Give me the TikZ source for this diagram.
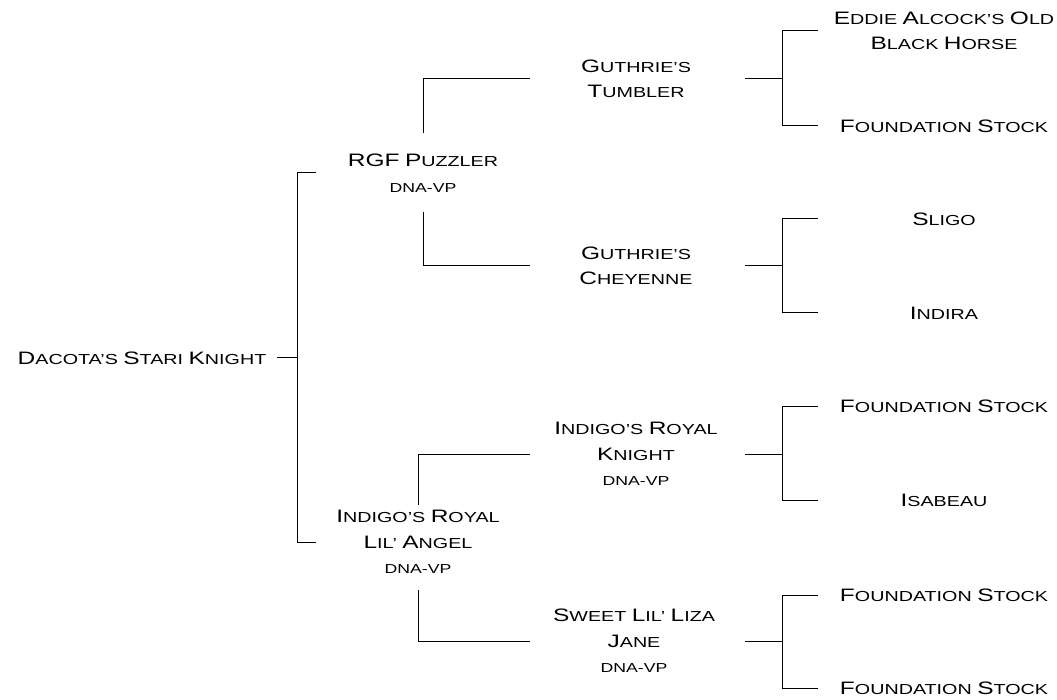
\documentclass[tikz,border=0pt]{standalone}
\usepackage{fontspec}
\setmainfont[FakeStretch=1.36]{Liberation Sans}
\newcommand\C[1]{{\fontsize{18}{20}\selectfont #1}}
\newcommand\dna{{\fontsize{13}{20}\selectfont DNA-VP}}
\begin{document}
\begin{tikzpicture}[x=1pt,y=-1pt,
  lbl/.style={align=center,inner sep=0pt,font=\fontsize{14.5}{25.5}\selectfont},
  conn/.style={draw,line width=1pt}]
\useasboundingbox (0,0) rectangle (1057,700);
% helper columns
\coordinate (rx) at (316,0);
\coordinate (gx) at (530,0);
\coordinate (sx) at (745,0);
\coordinate (tx) at (818,0);
% nodes
\node[lbl] (root) at (142,358) {\C{D}ACOTA'S \C{S}TARI \C{K}NIGHT};
\node[lbl] (rgf) at (423,173) {\C{RGF} \C{P}UZZLER\\\dna};
\node[lbl] (lil) at (418,542) {\C{I}NDIGO'S \C{R}OYAL\\\C{L}IL' \C{A}NGEL\\\dna};
\node[lbl] (gt) at (636,79) {\C{G}UTHRIE'S\\\C{T}UMBLER};
\node[lbl] (gc) at (636,266) {\C{G}UTHRIE'S\\\C{C}HEYENNE};
\node[lbl] (irk) at (636,454) {\C{I}NDIGO'S \C{R}OYAL\\\C{K}NIGHT\\\dna};
\node[lbl] (sll) at (634,641) {\C{S}WEET \C{L}IL' \C{L}IZA\\\C{J}ANE\\\dna};
\node[lbl] (eddie) at (944,31) {\C{E}DDIE \C{A}LCOCK'S \C{O}LD\\\C{B}LACK \C{H}ORSE};
\node[lbl] (fs1) at (944,126) {\C{F}OUNDATION \C{S}TOCK};
\node[lbl] (sligo) at (944,219) {\C{S}LIGO};
\node[lbl] (indira) at (944,313) {\C{I}NDIRA};
\node[lbl] (fs2) at (944,406) {\C{F}OUNDATION \C{S}TOCK};
\node[lbl] (isabeau) at (944,500) {\C{I}SABEAU};
\node[lbl] (fs3) at (944,595) {\C{F}OUNDATION \C{S}TOCK};
\node[lbl] (fs4) at (944,688) {\C{F}OUNDATION \C{S}TOCK};
% junctions
\coordinate (j0) at (297,358);
\coordinate (k1) at (782,79);
\coordinate (k2) at (782,266);
\coordinate (k3) at (782,454);
\coordinate (k4) at (782,641);
% root
\draw[conn] (root -| 277,0) -- (j0);
\draw[conn] (j0) |- (rgf -| rx);
\draw[conn] (j0) |- (lil -| rx);
% rgf
\draw[conn] ([yshift=40pt]rgf.center) |- (gt -| gx);
\draw[conn] ([yshift=-39pt]rgf.center) |- (gc -| gx);
% lil
\draw[conn] ([yshift=37pt]lil.center) |- (irk -| gx);
\draw[conn] ([yshift=-48pt]lil.center) |- (sll -| gx);
% third level
\draw[conn] (gt -| sx) -- (k1);
\draw[conn] (k1) |- (eddie -| tx);
\draw[conn] (k1) |- (fs1 -| tx);
\draw[conn] (gc -| sx) -- (k2);
\draw[conn] (k2) |- (sligo -| tx);
\draw[conn] (k2) |- (indira -| tx);
\draw[conn] (irk -| sx) -- (k3);
\draw[conn] (k3) |- (fs2 -| tx);
\draw[conn] (k3) |- (isabeau -| tx);
\draw[conn] (sll -| sx) -- (k4);
\draw[conn] (k4) |- (fs3 -| tx);
\draw[conn] (k4) |- (fs4 -| tx);
\end{tikzpicture}
\end{document}
